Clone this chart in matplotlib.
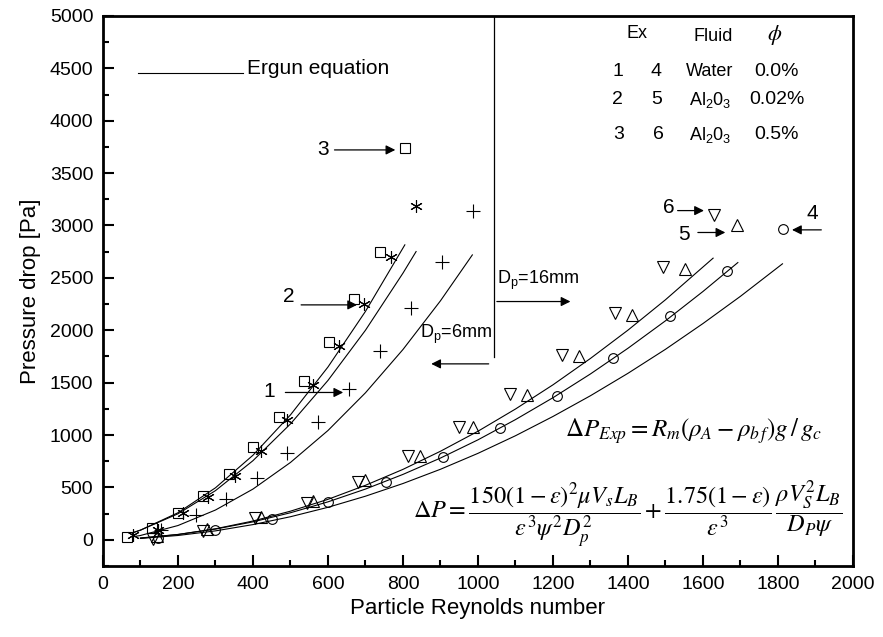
import numpy as np
import matplotlib
matplotlib.use("Agg")
import matplotlib.pyplot as plt
from matplotlib.ticker import MultipleLocator

plt.rcParams["font.family"] = ["Liberation Sans", "DejaVu Sans"]
plt.rcParams["mathtext.fontset"] = "custom"
plt.rcParams["mathtext.rm"] = "Liberation Sans"
plt.rcParams["mathtext.it"] = "Liberation Sans:italic"

re1 = [155, 248, 328, 410, 492, 574, 657, 739, 821, 905, 987]
dp1 = [89, 235, 388, 589, 833, 1123, 1438, 1806, 2211, 2656, 3142]
re2 = [81, 148, 214, 281, 352, 421, 490, 561, 629, 696, 768, 835]
dp2 = [45, 95, 255, 404, 604, 849, 1145, 1473, 1845, 2249, 2703, 3185]
re3 = [65, 132, 199, 268, 336, 401, 469, 537, 603, 669, 738, 805]
dp3 = [31, 112, 255, 420, 627, 881, 1176, 1517, 1886, 2300, 2751, 3740]
re4 = [148, 299, 450, 601, 755, 906, 1059, 1210, 1361, 1512, 1665, 1814]
dp4 = [16, 89, 200, 356, 547, 789, 1066, 1374, 1734, 2137, 2570, 2964]
re5 = [143, 278, 421, 561, 699, 845, 986, 1130, 1269, 1410, 1552, 1692]
dp5 = [32, 102, 216, 366, 573, 795, 1075, 1384, 1756, 2147, 2583, 3006]
re6 = [134, 268, 405, 543, 681, 814, 949, 1085, 1223, 1366, 1494, 1630]
dp6 = [7, 80, 207, 350, 556, 801, 1075, 1390, 1759, 2163, 2608, 3101]

# Ergun equation curves
erg_re_3 = [80, 100, 200, 300, 400, 500, 600, 700, 805]
erg_dp_3 = [68, 92, 258, 496, 807, 1192, 1649, 2180, 2815]
erg_re_2 = [80, 100, 200, 300, 400, 500, 600, 700, 800, 835]
erg_dp_2 = [68, 92, 248, 469, 755, 1106, 1521, 2000, 2545, 2751]
erg_re_1 = [80, 100, 200, 300, 400, 500, 600, 700, 800, 900, 985]
erg_dp_1 = [29, 41, 136, 284, 484, 738, 1043, 1403, 1816, 2281, 2719]
erg_re_6 = [100, 200, 300, 400, 500, 600, 700, 800, 900, 1000, 1100, 1200, 1300, 1400, 1500, 1627]
erg_dp_6 = [15, 50, 105, 179, 273, 386, 520, 672, 845, 1036, 1248, 1479, 1731, 2001, 2291, 2688]
erg_re_4 = [100, 200, 300, 400, 500, 600, 700, 800, 900, 1000, 1100, 1200, 1300, 1400, 1500, 1600, 1693]
erg_dp_4 = [17, 51, 102, 171, 258, 362, 484, 624, 780, 954, 1147, 1356, 1583, 1828, 2090, 2370, 2646]
erg_re_w = [100, 200, 300, 400, 500, 600, 700, 800, 900, 1000, 1100, 1200, 1300, 1400, 1500, 1600, 1700, 1812]
erg_dp_w = [13, 41, 85, 145, 220, 310, 416, 537, 673, 825, 993, 1177, 1375, 1589, 1818, 2064, 2324, 2634]

fig = plt.figure(figsize=(8.83, 6.37), dpi=100)
ax = fig.add_axes([0.1166, 0.1115, 0.8494, 0.8635])

for x, y in [(erg_re_3, erg_dp_3), (erg_re_2, erg_dp_2), (erg_re_1, erg_dp_1),
             (erg_re_6, erg_dp_6), (erg_re_4, erg_dp_4), (erg_re_w, erg_dp_w)]:
    ax.plot(x, y, color="k", lw=0.8)

mk = dict(ls="none", color="k", mfc="none", mew=0.8)
ax.plot(re3, dp3, marker="s", ms=7.5, **mk)
ax.plot(re2, dp2, marker=(6, 2, 0), ms=9, **mk)
ax.plot(re1, dp1, marker="+", ms=10, **mk)
ax.plot(re4, dp4, marker="o", ms=7, **mk)
ax.plot(re5, dp5, marker="^", ms=8, **mk)
ax.plot(re6, dp6, marker="v", ms=8, **mk)

ax.set_xlim(0, 2000)
ax.set_ylim(-250, 5000)
ax.xaxis.set_major_locator(MultipleLocator(200))
ax.xaxis.set_minor_locator(MultipleLocator(100))
ax.yaxis.set_major_locator(MultipleLocator(500))
ax.yaxis.set_minor_locator(MultipleLocator(250))
ax.tick_params(which="both", direction="in", top=False, right=False,
               width=1.5, labelsize=14)
ax.tick_params(which="major", length=8, pad=7)
ax.tick_params(which="minor", length=4)
for s in ax.spines.values():
    s.set_linewidth(2)
ax.set_xlabel("Particle Reynolds number", fontsize=16, labelpad=4)
ax.set_ylabel("Pressure drop [Pa]", fontsize=16, labelpad=6)

arr = dict(arrowstyle="-|>", color="k", lw=0.9, mutation_scale=14)

# Ergun legend line
ax.plot([93, 373], [4455, 4455], color="k", lw=0.8)
ax.text(384, 4500, "Ergun equation", fontsize=15, va="center")

# numbered arrows
ax.annotate("", xy=(787, 3721), xytext=(610, 3721), arrowprops=arr)
ax.text(586, 3721, "3", fontsize=15, ha="center", va="center")
ax.annotate("", xy=(685, 2242), xytext=(521, 2242), arrowprops=arr)
ax.text(496, 2320, "2", fontsize=15, ha="center", va="center")
ax.annotate("", xy=(648, 1406), xytext=(479, 1406), arrowprops=arr)
ax.text(443, 1415, "1", fontsize=15, ha="center", va="center")
ax.annotate("", xy=(1610, 3142), xytext=(1525, 3142), arrowprops=arr)
ax.text(1508, 3175, "6", fontsize=15, ha="center", va="center")
ax.annotate("", xy=(1667, 2933), xytext=(1579, 2933), arrowprops=arr)
ax.text(1550, 2910, "5", fontsize=15, ha="center", va="center")
ax.annotate("", xy=(1830, 2958), xytext=(1923, 2958), arrowprops=arr)
ax.text(1892, 3117, "4", fontsize=15, ha="center", va="center")

# particle diameter separator
ax.plot([1043, 1043], [5000, 1749], color="k", lw=0.9)
ax.annotate("", xy=(1254, 2274), xytext=(1043, 2274), arrowprops=arr)
ax.text(1052, 2480, r"D$_\mathregular{p}$=16mm", fontsize=13, va="center")
ax.annotate("", xy=(868, 1679), xytext=(1036, 1679), arrowprops=arr)
ax.text(845, 1960, r"D$_\mathregular{p}$=6mm", fontsize=13, va="center")

# table of experiments
ax.text(1423, 4835, "Ex", fontsize=13, ha="center", va="center")
ax.text(1628, 4800, "Fluid", fontsize=13, ha="center", va="center")
ax.text(1792, 4820, r"$\phi$", fontsize=16, ha="center", va="center",
        math_fontfamily="stix")
al = r"Al$_\mathregular{2}$0$_\mathregular{3}$"
rows = [("1", "4", "Water", "0.0%"), ("2", "5", al, "0.02%"),
        ("3", "6", al, "0.5%")]
row_y = [4469, 4198, 3865]
for k, (a, b, f, c) in enumerate(rows):
    yy = row_y[k]
    ax.text(1372 + 4 * (k == 2), yy, a, fontsize=14, ha="center", va="center")
    ax.text(1476 + 4 * (k == 2), yy, b, fontsize=14, ha="center", va="center")
    ax.text(1619, yy, f, fontsize=13, ha="center", va="center")
    ax.text(1797, yy, c, fontsize=14, ha="center", va="center")

# equations
ax.text(1232, 1033, r"$\Delta P_{Exp}=R_m\left(\rho_A-\rho_{b\,f}\right)g\,/\,g_c$",
        fontsize=18, va="center", math_fontfamily="stix")
ax.text(827, 239,
        r"$\Delta P=\dfrac{150\left(1-\varepsilon\right)^2\mu V_s L_B}{\varepsilon^3\psi^2D_p^2}"
        r"+\dfrac{1.75\left(1-\varepsilon\right)}{\varepsilon^3}\,\dfrac{\rho V_S^2L_B}{D_P\psi}$",
        fontsize=17.5, va="center", math_fontfamily="stix")

fig.savefig("out.png", dpi=100)
